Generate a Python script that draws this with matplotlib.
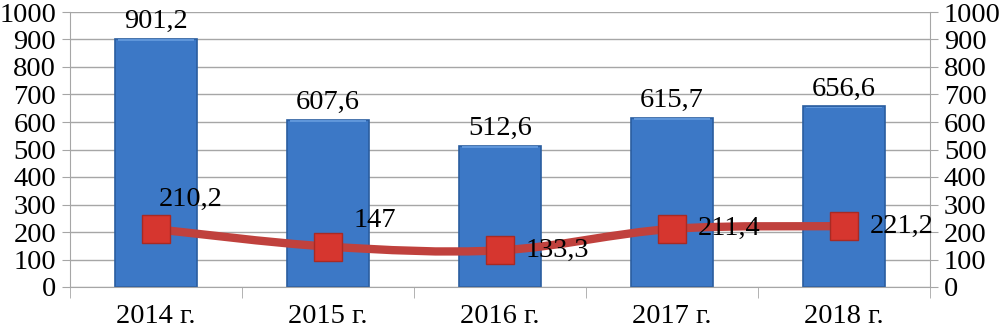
import matplotlib.pyplot as plt
import numpy as np
from matplotlib.path import Path
from matplotlib.patches import PathPatch

years = ["2014 г.", "2015 г.", "2016 г.", "2017 г.", "2018 г."]
bar_values = [901.2, 607.6, 512.6, 615.7, 656.6]
line_values = [210.2, 147, 133.3, 211.4, 221.2]
bar_labels = ["901,2", "607,6", "512,6", "615,7", "656,6"]
line_labels = ["210,2", "147", "133,3", "211,4", "221,2"]

plt.rcParams['font.family'] = ['Liberation Serif', 'DejaVu Serif']
fs = 20.5

fig = plt.figure(figsize=(10.01, 3.33), dpi=100)
ax = fig.add_axes([70 / 1001, 1 - 287 / 333, (930 - 70) / 1001, (287 - 12) / 333])

x = np.arange(len(years))
ax.set_xlim(-0.5, len(years) - 0.5)
ax.set_ylim(0, 1000)

# gridlines
ax.set_yticks(np.arange(0, 1001, 100))
ax.yaxis.grid(True, color='#a6a6a6', linewidth=1.0)
ax.set_axisbelow(True)

bars = ax.bar(x, bar_values, width=0.475, color='#3c78c6',
              edgecolor='#2a5d9f', linewidth=1.2, zorder=2)
for b in bars:
    # lighter top edge to mimic the bevel
    ax.bar(b.get_x() + b.get_width() / 2, 6, bottom=b.get_height() - 7,
           width=b.get_width() * 0.94, color='#5f96da', linewidth=0, zorder=3)

for xi, v, lab in zip(x, bar_values, bar_labels):
    ax.annotate(lab, (xi, v), xytext=(0, 5), textcoords='offset pixels',
                ha='center', va='bottom', fontsize=fs)

# smoothed line through the points (cardinal spline as bezier)
pts = np.column_stack([x, line_values]).astype(float)
verts = [pts[0]]
codes = [Path.MOVETO]
t = 1 / 6
for i in range(len(pts) - 1):
    p0 = pts[i - 1] if i > 0 else pts[i]
    p1 = pts[i]
    p2 = pts[i + 1]
    p3 = pts[i + 2] if i + 2 < len(pts) else pts[i + 1]
    c1 = p1 + (p2 - p0) * t
    c2 = p2 - (p3 - p1) * t
    verts += [c1, c2, p2]
    codes += [Path.CURVE4] * 3
ax.add_patch(PathPatch(Path(verts, codes), facecolor='none', edgecolor='#c0413d',
                       linewidth=6, capstyle='round', zorder=4))
ax.plot(x, line_values, linestyle='none', marker='s', markersize=20,
        markerfacecolor='#d6362f', markeredgecolor='#a82a24', markeredgewidth=1, zorder=5)

offsets = [(3, 30), (26, 26), (26, 0), (26, 0), (26, 0)]
for xi, v, lab, off in zip(x, line_values, line_labels, offsets):
    ax.annotate(lab, (xi, v), xytext=off, textcoords='offset pixels',
                ha='left', va='center', fontsize=fs, zorder=6)

# axes styling
ax.spines['top'].set_visible(False)
for s in ['left', 'right', 'bottom']:
    ax.spines[s].set_color('#a6a6a6')
ax.set_xticks(x)
ax.set_xticklabels(years, fontsize=fs)
ax.set_xticks(np.arange(-0.5, len(years), 1), minor=True)
ax.tick_params(axis='x', which='major', length=0, pad=12)
ax.tick_params(axis='x', which='minor', length=8, color='#a6a6a6', direction='out')
ax.tick_params(axis='y', length=6, color='#a6a6a6', labelsize=fs, pad=4,
               left=True, right=True, labelleft=True, labelright=True)

fig.savefig('out.png', dpi=100)
